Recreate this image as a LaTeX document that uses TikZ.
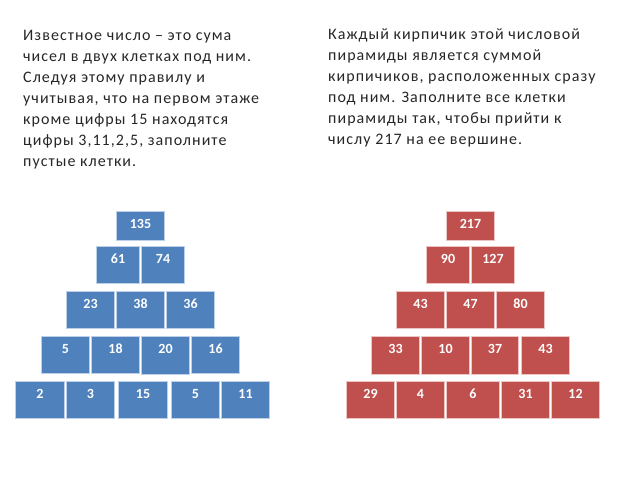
\documentclass[tikz,border=0pt]{standalone}
\usepackage{fontspec}
\setmainfont{Carlito}
\newfontfamily\parafont[LetterSpace=6.5]{Carlito}
\definecolor{bfill}{RGB}{79,129,189}
\definecolor{bline}{RGB}{190,208,232}
\definecolor{rfill}{RGB}{192,80,77}
\definecolor{rline}{RGB}{236,196,195}
\tikzset{
  bluebrick/.style={fill=bfill, draw=bline, line width=1pt, inner sep=0pt},
  redbrick/.style={fill=rfill, draw=rline, line width=1pt, inner sep=0pt},
  numtxt/.style={text=white, font=\fontsize{14}{16}\selectfont\bfseries, inner sep=0pt, anchor=center},
  para/.style={anchor=north west, inner sep=0pt, align=left, text=black!85,
    font=\parafont\fontsize{16}{21}\selectfont}
}
\newcommand\brick[7]{%
  \pgfmathsetmacro\bw{#4-#2}\pgfmathsetmacro\bh{#5-#3}%
  \node[#7, minimum width=\bw pt, minimum height=\bh pt, anchor=north west,
    label={[numtxt, yshift=-13pt]north:#6}] (#1) at (#2,#3) {};}
\begin{document}
\begin{tikzpicture}[x=1pt,y=-1pt]
\useasboundingbox (0,0) rectangle (640,480);
\node[para] (lefttext) at (23,30) {Известное число – это сума\\чисел в двух клетках под ним.\\Следуя этому правилу и\\учитывая, что на первом этаже\\кроме цифры 15 находятся\\цифры 3,11,2,5, заполните\\пустые клетки.};
\node[para] (righttext) at (328,28.5) {Каждый кирпичик этой числовой\\пирамиды является суммой\\кирпичиков, расположенных сразу\\под ним. Заполните все клетки\\пирамиды так, чтобы прийти к\\числу 217 на ее вершине.};
% blue pyramid
\brick{b1}{116}{211}{164}{240}{135}{bluebrick}
\brick{b21}{96}{246}{139}{283}{61}{bluebrick}
\brick{b22}{141}{246}{184}{283}{74}{bluebrick}
\brick{b31}{66}{291}{114}{328}{23}{bluebrick}
\brick{b32}{116}{291}{164}{328}{38}{bluebrick}
\brick{b33}{166}{291}{214}{328}{36}{bluebrick}
\brick{b41}{41}{336}{89}{373}{5}{bluebrick}
\brick{b42}{91}{336}{139}{373}{18}{bluebrick}
\brick{b43}{141}{336}{189}{374}{20}{bluebrick}
\brick{b44}{191}{336}{239}{373}{16}{bluebrick}
\brick{b51}{15}{381}{64}{418}{2}{bluebrick}
\brick{b52}{66}{381}{114}{418}{3}{bluebrick}
\brick{b53}{118}{381}{167}{418}{15}{bluebrick}
\brick{b54}{171}{381}{219}{418}{5}{bluebrick}
\brick{b55}{221}{381}{269}{418}{11}{bluebrick}
% red pyramid
\brick{r1}{446}{211}{494}{240}{217}{redbrick}
\brick{r21}{426}{246}{469}{283}{90}{redbrick}
\brick{r22}{471}{246}{514}{283}{127}{redbrick}
\brick{r31}{396}{291}{444}{328}{43}{redbrick}
\brick{r32}{446}{291}{494}{328}{47}{redbrick}
\brick{r33}{496}{291}{544}{328}{80}{redbrick}
\brick{r41}{371}{336}{419}{374}{33}{redbrick}
\brick{r42}{421}{336}{469}{374}{10}{redbrick}
\brick{r43}{471}{336}{518}{374}{37}{redbrick}
\brick{r44}{521}{336}{569}{374}{43}{redbrick}
\brick{r51}{346}{381}{394}{418}{29}{redbrick}
\brick{r52}{396}{381}{444}{418}{4}{redbrick}
\brick{r53}{446}{381}{499}{418}{6}{redbrick}
\brick{r54}{501}{381}{549}{418}{31}{redbrick}
\brick{r55}{551}{381}{599}{418}{12}{redbrick}
\end{tikzpicture}
\end{document}
